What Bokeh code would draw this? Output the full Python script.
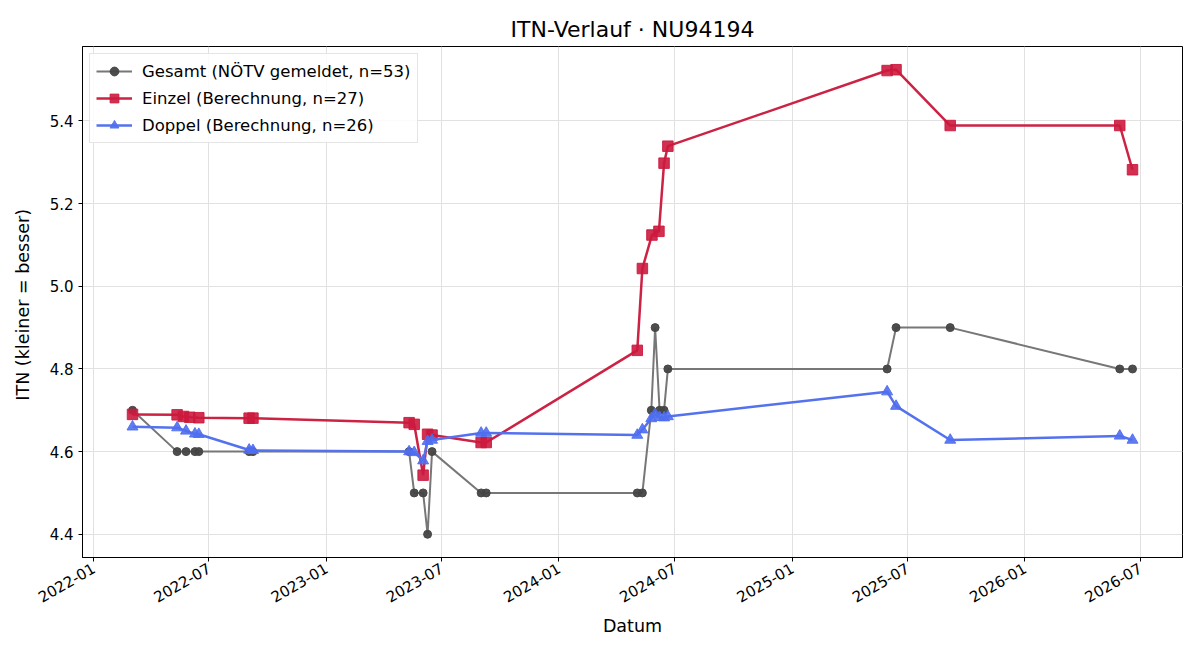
import math
import pandas as pd
from bokeh.plotting import figure
from bokeh.models import (FixedTicker, DatetimeTickFormatter, Legend, LegendItem,
                          Range1d, ColumnDataSource, PrintfTickFormatter)
from bokeh.embed import file_html
from bokeh.resources import INLINE

# --- data -------------------------------------------------------------
gesamt_dates = ["2022-03-03", "2022-05-12", "2022-05-26", "2022-06-09", "2022-06-15",
                "2022-09-02", "2022-09-08", "2023-05-11", "2023-05-19", "2023-06-02",
                "2023-06-09", "2023-06-16", "2023-09-01", "2023-09-09", "2024-05-03",
                "2024-05-11", "2024-05-25", "2024-05-31", "2024-06-07", "2024-06-14",
                "2024-06-20", "2025-05-30", "2025-06-13", "2025-09-06", "2026-05-30",
                "2026-06-19"]
gesamt_itn = [4.70, 4.60, 4.60, 4.60, 4.60,
              4.60, 4.60, 4.60, 4.50, 4.50,
              4.40, 4.60, 4.50, 4.50, 4.50,
              4.50, 4.70, 4.90, 4.70, 4.70,
              4.80, 4.80, 4.90, 4.90, 4.80,
              4.80]

einzel_dates = ["2022-03-03", "2022-05-12", "2022-05-22", "2022-06-01", "2022-06-15",
                "2022-09-02", "2022-09-08", "2023-05-11", "2023-05-19", "2023-06-02",
                "2023-06-09", "2023-06-16", "2023-09-01", "2023-09-09", "2024-05-03",
                "2024-05-11", "2024-05-26", "2024-06-06", "2024-06-14", "2024-06-20",
                "2025-05-30", "2025-06-13", "2025-09-06", "2026-05-30", "2026-06-19"]
einzel_itn = [4.690, 4.689, 4.685, 4.683, 4.682,
              4.681, 4.681, 4.670, 4.666, 4.543,
              4.642, 4.640, 4.622, 4.622, 4.845,
              5.043, 5.124, 5.133, 5.298, 5.339,
              5.522, 5.524, 5.389, 5.389, 5.282]

doppel_dates = ["2022-03-03", "2022-05-12", "2022-05-26", "2022-06-09", "2022-06-15",
                "2022-09-02", "2022-09-08", "2023-05-11", "2023-05-19", "2023-06-02",
                "2023-06-09", "2023-06-16", "2023-09-01", "2023-09-09", "2024-05-03",
                "2024-05-11", "2024-05-25", "2024-05-31", "2024-06-07", "2024-06-14",
                "2024-06-20", "2025-05-30", "2025-06-13", "2025-09-06", "2026-05-30",
                "2026-06-19"]
doppel_itn = [4.660, 4.658, 4.650, 4.643, 4.642,
              4.604, 4.603, 4.600, 4.598, 4.578,
              4.625, 4.628, 4.645, 4.645, 4.640,
              4.653, 4.680, 4.690, 4.683, 4.682,
              4.685, 4.745, 4.710, 4.628, 4.638,
              4.628]

tick_months = ["2022-01", "2022-07", "2023-01", "2023-07", "2024-01",
               "2024-07", "2025-01", "2025-07", "2026-01", "2026-07"]
y_ticks = [4.4, 4.6, 4.8, 5.0, 5.2, 5.4]

labels = ["Gesamt (NÖTV gemeldet, n=53)",
          "Einzel (Berechnung, n=27)",
          "Doppel (Berechnung, n=26)"]

FONT = "DejaVu Sans"

def to_dt(lst):
    return pd.to_datetime(lst)

g_src = ColumnDataSource(dict(x=to_dt(gesamt_dates), y=gesamt_itn))
e_src = ColumnDataSource(dict(x=to_dt(einzel_dates), y=einzel_itn))
d_src = ColumnDataSource(dict(x=to_dt(doppel_dates), y=doppel_itn))

# axis limits with 5 % padding around all data
all_x = pd.concat([pd.Series(to_dt(gesamt_dates)), pd.Series(to_dt(einzel_dates)),
                   pd.Series(to_dt(doppel_dates))])
all_y = gesamt_itn + einzel_itn + doppel_itn
xmin, xmax = all_x.min(), all_x.max()
xpad = (xmax - xmin) * 0.05
ymin, ymax = min(all_y), max(all_y)
ypad = (ymax - ymin) * 0.05

p = figure(width=1200, height=660, x_axis_type="datetime",
           output_backend="svg", toolbar_location=None,
           x_range=Range1d(xmin - xpad, xmax + xpad),
           y_range=Range1d(ymin - ypad, ymax + ypad),
           min_border_left=82, min_border_right=18,
           min_border_top=46, min_border_bottom=103)

p.title.text = "ITN-Verlauf · NU94194"
p.title.align = "center"
p.title.text_font = FONT
p.title.text_font_size = "22px"
p.title.text_font_style = "normal"
p.title.text_color = "black"

p.outline_line_color = "black"
p.outline_line_width = 1
p.outline_line_alpha = 1
p.background_fill_color = "white"
p.border_fill_color = "white"

p.xgrid.grid_line_color = "#e1e1e1"
p.ygrid.grid_line_color = "#e1e1e1"

# Gesamt
g_line = p.line("x", "y", source=g_src, line_color="#777777", line_width=2)
g_pts = p.scatter("x", "y", source=g_src, marker="circle", size=8,
                  fill_color="#444444", line_color="#444444", alpha=0.95)
# Einzel
e_line = p.line("x", "y", source=e_src, line_color="#cc2244", line_width=2.5)
e_pts = p.scatter("x", "y", source=e_src, marker="square", size=10.5,
                  fill_color="#cc1a3e", line_color="#cc1a3e", alpha=0.9)
# Doppel
d_line = p.line("x", "y", source=d_src, line_color="#5472ee", line_width=2.5)
d_pts = p.scatter("x", "y", source=d_src, marker="triangle", size=11,
                  fill_color="#4f6ef0", line_color="#4f6ef0", alpha=0.9)

# axes
tick_ms = [pd.Timestamp(m + "-01").value // 10**6 for m in tick_months]
p.xaxis.ticker = FixedTicker(ticks=tick_ms)
fmt = "%Y-%m"
p.xaxis.formatter = DatetimeTickFormatter(milliseconds=fmt, seconds=fmt, minsec=fmt,
                                          minutes=fmt, hourmin=fmt, hours=fmt,
                                          days=fmt, months=fmt, years=fmt)
p.xaxis.major_label_orientation = math.pi / 6
p.yaxis.ticker = FixedTicker(ticks=y_ticks)
p.yaxis.formatter = PrintfTickFormatter(format="%.1f")

for ax in (p.xaxis[0], p.yaxis[0]):
    ax.axis_line_color = "black"
    ax.major_tick_line_color = "black"
    ax.major_tick_in = 0
    ax.major_tick_out = 4
    ax.minor_tick_line_color = None
    ax.major_label_text_font = FONT
    ax.major_label_text_font_size = "15px"
    ax.major_label_text_color = "black"
    ax.axis_label_text_font = FONT
    ax.axis_label_text_font_size = "17.5px"
    ax.axis_label_text_font_style = "normal"
    ax.axis_label_text_color = "black"

p.xaxis.axis_label = "Datum"
p.yaxis.axis_label = "ITN  (kleiner = besser)"
p.yaxis.axis_label_standoff = 14

legend = Legend(items=[
    LegendItem(label=labels[0], renderers=[g_line, g_pts]),
    LegendItem(label=labels[1], renderers=[e_line, e_pts]),
    LegendItem(label=labels[2], renderers=[d_line, d_pts]),
], location="top_left")
legend.label_text_font = FONT
legend.label_text_font_size = "16.5px"
legend.label_text_color = "black"
legend.border_line_color = "#cccccc"
legend.border_line_width = 1
legend.background_fill_alpha = 0.85
legend.margin = 7
legend.padding = 6
legend.spacing = 5
legend.glyph_width = 36
legend.label_standoff = 10
legend.label_height = 22
legend.glyph_height = 22
p.add_layout(legend)

open("out.html", "w").write(file_html(p, INLINE))
